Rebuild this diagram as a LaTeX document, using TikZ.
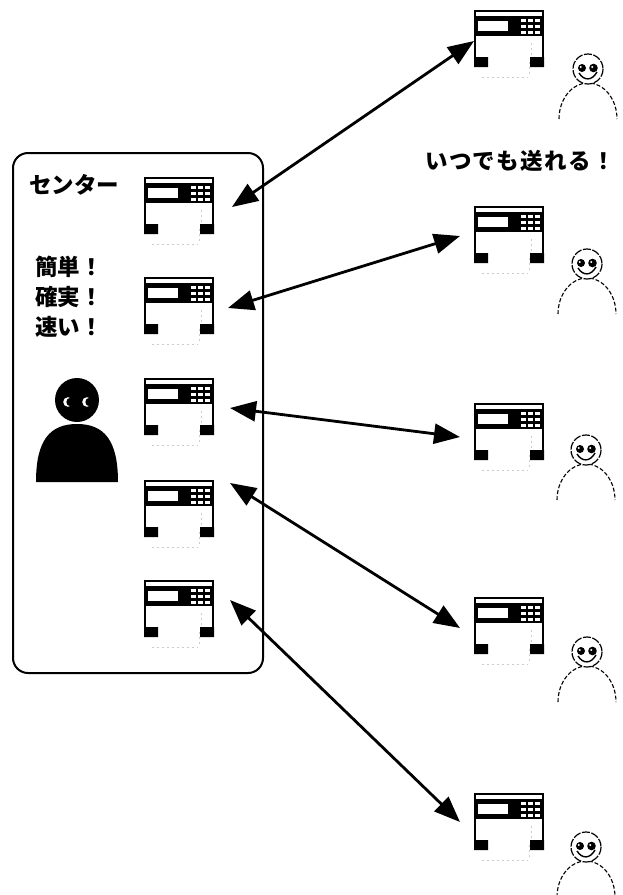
\documentclass[tikz,border=0pt]{standalone}
\usepackage{fontspec}
\newfontfamily\jp{Noto Sans CJK JP}
\usetikzlibrary{arrows.meta}
\tikzset{
  link/.style={line width=2.8pt,
    {Triangle[length=26pt,width=20pt]}-{Triangle[length=26pt,width=20pt]}},
  jptext/.style={font=\jp\bfseries\fontsize{22.5}{22.5}\selectfont, inner sep=0pt, anchor=west},
  centerbox/.style={line width=2pt, rounded corners=15pt},
  % fax machine, origin at its top left corner
  fax/.pic={
    \fill[black] (0,0) rectangle (70,26);
    \fill[white] (2,2) rectangle (68,5.5);
    \fill[white] (4,11) rectangle (34,21);
    \foreach \i in {0,1,2}
      \foreach \j in {0,1,2}
        \fill[white] ({47+\i*7},{8.5+\j*6}) rectangle ({51.8+\i*7},{12+\j*6});
    \draw[line width=2.2pt] (1.1,26) -- (1.1,49) (68.9,26) -- (68.9,49);
    \fill[black] (0,47) rectangle (14,57) (56,47) rectangle (70,57);
    \draw[gray!40, line width=0.6pt, dash pattern=on 2pt off 3pt]
      (57,33) -- (57,46)
      (8,67) -- (54,67) (55,52) -- (55,66);
  },
  % small smiling person, origin at the centre of the head
  person/.pic={
    \draw[line width=1.1pt, dash pattern=on 4pt off 2pt]
      (-29,50) arc[start angle=180, end angle=360, x radius=29, y radius=36];
    \filldraw[fill=white, line width=1.2pt, dash pattern=on 8pt off 1.5pt]
      (0,0) circle[radius=15];
    \fill (-6,-1) circle[radius=4];
    \fill (5.5,-1) circle[radius=4.3];
    \fill[white] (-7.2,-2) circle[radius=1.1];
    \fill[white] (4.2,-2) circle[radius=1.1];
    \draw[line width=1.4pt] (-9,4) .. controls (-4,12) and (4,12) .. (9,3);
  }
}
\begin{document}
\begin{tikzpicture}[x=1pt,y=-1pt]
\useasboundingbox (0,0) rectangle (623,895);

% centre box
\draw[centerbox] (13,153) rectangle (263,673);
\node[jptext] (title) at (29,185) {センター};
\node[jptext] (adv1) at (35,267) {簡単！};
\node[jptext] (adv2) at (35,297) {確実！};
\node[jptext] (adv3) at (35,327) {速い！};
\node[jptext] (anytime) at (425,161) {\addfontfeature{LetterSpace=6}いつでも送れる！};

% operator in the centre
\fill (36,482) .. controls (36,440) and (50,424) .. (77,424)
      .. controls (104,424) and (118,440) .. (118,482) -- cycle;
\fill (77,400) circle[radius=22];
\fill[white] (68,402) circle[radius=4.8];
\fill[black] (70.5,402) circle[radius=4.2];
\fill[white] (87,402) circle[radius=4.8];
\fill[black] (89.5,402) circle[radius=4.2];

% fax machines in the centre
\pic (fc1) at (144,177) {fax};
\pic (fc2) at (144,277) {fax};
\pic (fc3) at (144,378) {fax};
\pic (fc4) at (144,480) {fax};
\pic (fc5) at (144,580) {fax};

% remote fax machines
\pic (fr1) at (474,10) {fax};
\pic (fr2) at (474,206) {fax};
\pic (fr3) at (474,403) {fax};
\pic (fr4) at (474,597) {fax};
\pic (fr5) at (474,793) {fax};

% remote users
\pic (u1) at (588,69) {person};
\pic (u2) at (587,264) {person};
\pic (u3) at (586,450) {person};
\pic (u4) at (587,652) {person};
\pic (u5) at (586,847) {person};

% connection end points
\coordinate (a1) at (232,207);
\coordinate (b1) at (474,41);
\coordinate (a2) at (228,308);
\coordinate (b2) at (460,236);
\coordinate (a3) at (230,408);
\coordinate (b3) at (460,437);
\coordinate (a4) at (230,483);
\coordinate (b4) at (460,628);
\coordinate (a5) at (230,600);
\coordinate (b5) at (460,822);

\draw[link] (a1) -- (b1);
\draw[link] (a2) -- (b2);
\draw[link] (a3) -- (b3);
\draw[link] (a4) -- (b4);
\draw[link] (a5) -- (b5);
\end{tikzpicture}
\end{document}
